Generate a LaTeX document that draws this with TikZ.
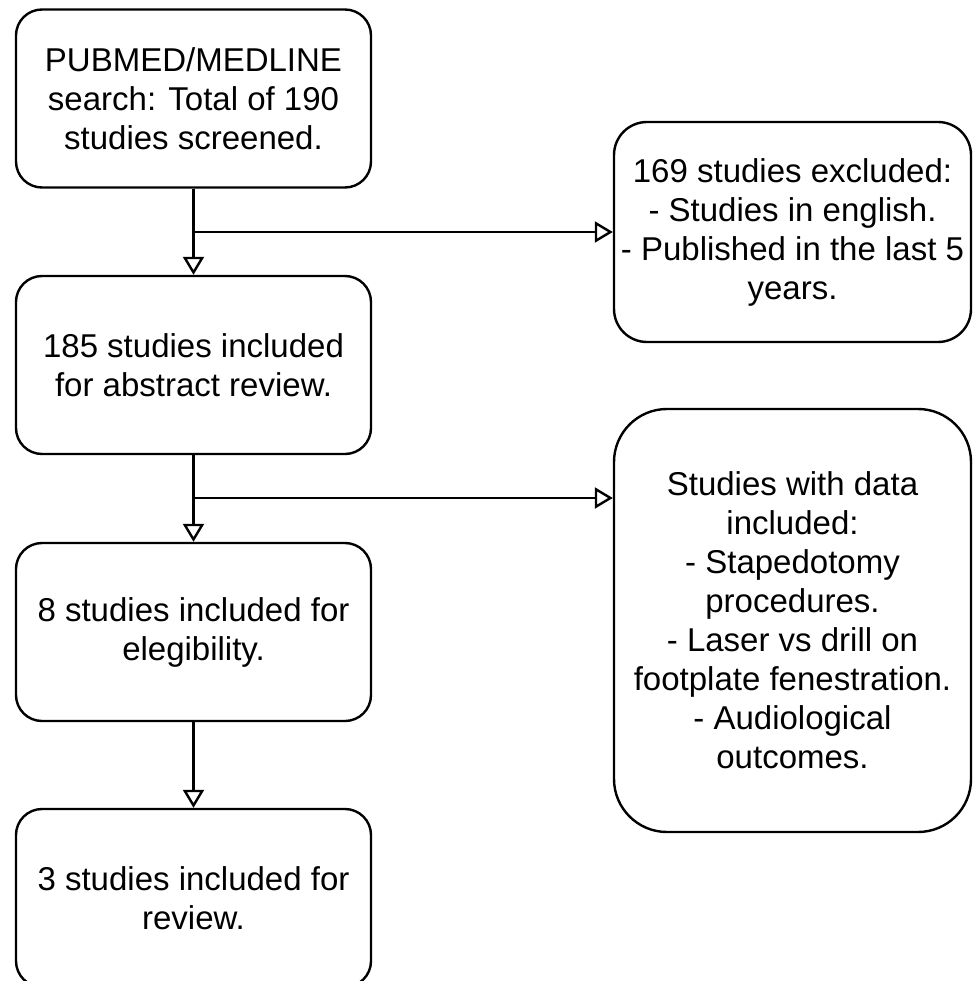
\documentclass[tikz,border=0pt]{standalone}
\usepackage{fontspec}
\setmainfont{Liberation Sans}
\usetikzlibrary{arrows.meta}
\begin{document}
\begin{tikzpicture}[x=1pt,y=-1pt,
  box/.style={draw, line width=2.4pt, align=center, inner sep=0pt,
    font=\fontsize{33}{39}\selectfont, minimum width=355pt,
    minimum height=178pt, rounded corners=26pt},
  link/.style={line width=2.4pt},
  arr/.style={line width=2.4pt, -{Triangle[open,length=18pt,width=21pt]}}]
\useasboundingbox (0,0) rectangle (972,981);
\clip (0,0) rectangle (972,981);
\node[box] (b1) at (193.5,98.5) {PUBMED/MEDLINE\\search: Total of 190\\studies screened.};
\node[box] (b2) at (193.5,365) {185 studies included\\for abstract review.};
\node[box] (b3) at (193.5,632) {8 studies included for\\elegibility.};
\node[box] (b4) at (193.5,898) {3 studies included for\\review.};
\node[box, minimum width=357pt, minimum height=220pt, rounded corners=33pt] (r1) at (792.5,232)
  {169 studies excluded:\\- Studies in english.\\- Published in the last 5\\years.};
\node[box, minimum width=357pt, minimum height=423pt, rounded corners=53pt] (r2) at (792.5,620.5)
  {Studies with data\\included:\\- Stapedotomy\\procedures.\\- Laser vs drill on\\footplate fenestration.\\- Audiological\\outcomes.};
\coordinate (j1) at (193.5,232);
\coordinate (j2) at (193.5,498);
\draw[link] (b1.south) -- (j1);
\draw[arr] (j1) -- (b2.north);
\draw[arr] (j1) -- (r1.west);
\draw[link] (b2.south) -- (j2);
\draw[arr] (j2) -- (b3.north);
\draw[arr] (j2) -- (j2 -| r2.west);
\draw[arr] (b3.south) -- (b4.north);
\end{tikzpicture}
\end{document}
